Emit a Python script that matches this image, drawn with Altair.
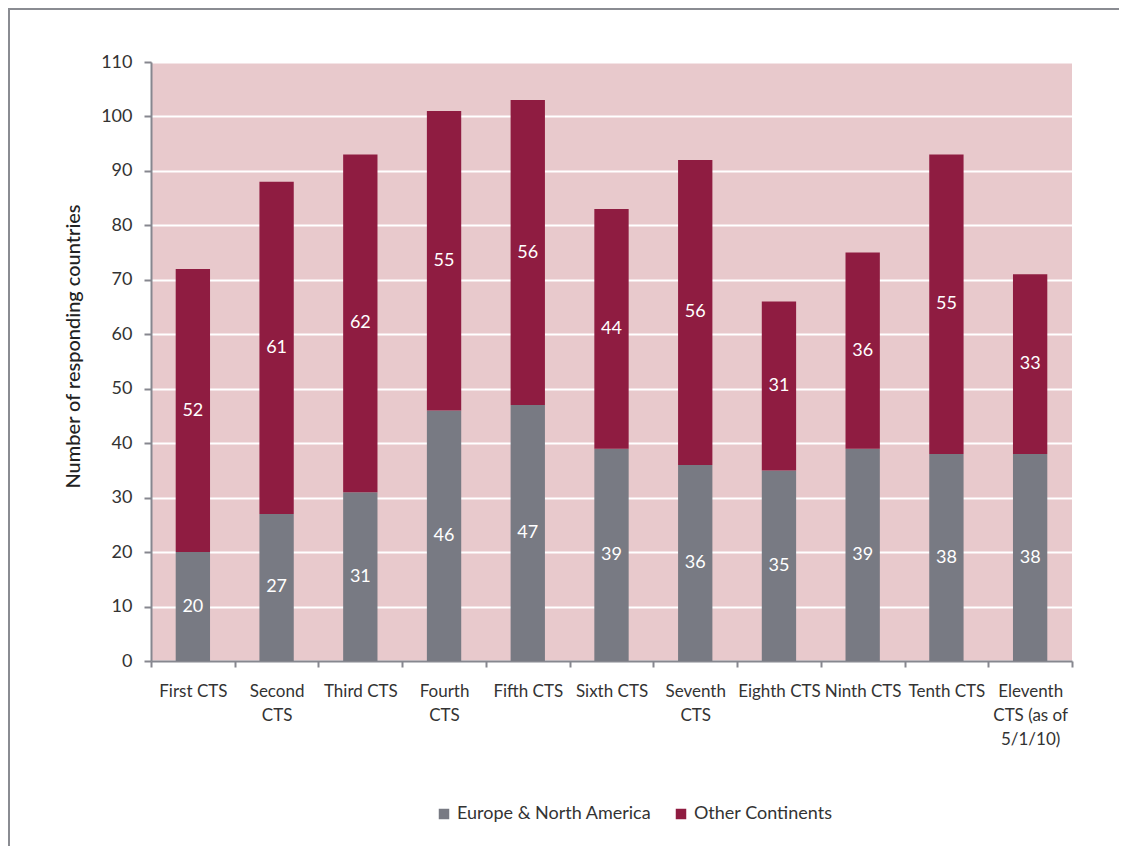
import altair as alt
import pandas as pd

stages = ["First CTS", "Second\nCTS", "Third CTS", "Fourth\nCTS", "Fifth CTS", "Sixth CTS",
          "Seventh\nCTS", "Eighth CTS", "Ninth CTS", "Tenth CTS", "Eleventh\nCTS (as of\n5/1/10)"]
europe = [20, 27, 31, 46, 47, 39, 36, 35, 39, 38, 38]
other = [52, 61, 62, 55, 56, 44, 56, 31, 36, 55, 33]
regions = ["Europe & North America", "Other Continents"]
colors = ["#787A83", "#8F1C41"]

rows = []
for i, s in enumerate(stages):
    rows.append({"stage": s, "region": regions[0], "value": europe[i], "ord": 0})
    rows.append({"stage": s, "region": regions[1], "value": other[i], "ord": 1})
df = pd.DataFrame(rows)

FONT = "Lato"
W, H = 921, 599

xenc = alt.X("stage:N", sort=stages, title=None,
             scale=alt.Scale(paddingInner=0, paddingOuter=0),
             axis=alt.Axis(labelExpr="split(datum.label, '\\n')", labelAngle=0,
                           tickBand="extent", labelLineHeight=24, labelPadding=16,
                           labelBaseline="top", labelFontSize=17))
base = alt.Chart(df)

bars = base.mark_bar(width=alt.RelativeBandSize(0.41)).encode(
    x=xenc,
    y=alt.Y("value:Q", stack="zero", title="Number of responding countries",
            scale=alt.Scale(domain=[0, 110], nice=False),
            axis=alt.Axis(values=list(range(0, 111, 10)), titleY=284)),
    color=alt.Color("region:N", scale=alt.Scale(domain=regions, range=colors),
                    legend=alt.Legend(title=None, orient="none", direction="horizontal",
                                      legendX=284, legendY=743, symbolType="square",
                                      symbolSize=110, symbolStrokeWidth=0, labelFontSize=18,
                                      labelFont=FONT, labelColor="#333333", columnPadding=20,
                                      labelOffset=4, padding=0, labelLimit=0)),
    order=alt.Order("ord:Q"),
)

labels = base.transform_stack(
    stack="value", groupby=["stage"], as_=["y0", "y1"], sort=[alt.SortField("ord")]
).transform_calculate(mid="(datum.y0 + datum.y1) / 2").mark_text(
    color="white", fontSize=18, font=FONT
).encode(x=alt.X("stage:N", sort=stages), y=alt.Y("mid:Q"), text=alt.Text("value:Q"))

frame_src = alt.Chart(pd.DataFrame({"a": [0]}))
frame_top = frame_src.mark_rule(stroke="#8A8C92", strokeWidth=2).encode(
    x=alt.value(-143), x2=alt.value(W + 47), y=alt.value(-53))
frame_left = frame_src.mark_rule(stroke="#8A8C92", strokeWidth=2).encode(
    x=alt.value(-142), y=alt.value(-54), y2=alt.value(H + 185))

chart = alt.layer(frame_top, frame_left, bars, labels).properties(
    width=W, height=H,
    autosize=alt.AutoSizeParams(type="none"),
    padding={"left": 143, "top": 54, "right": 47, "bottom": 185},
).configure_view(fill="#E8C9CC", stroke=None).configure_axis(
    labelFont=FONT, labelFontSize=18, labelColor="#333333",
    titleFont=FONT, titleFontSize=20, titleColor="#222222", titleFontWeight=500,
    domainColor="#86878F", domainWidth=2, tickColor="#86878F", tickWidth=2,
).configure_axisY(
    grid=True, gridColor="white", gridWidth=2, tickSize=7, labelPadding=12, titlePadding=17,
).configure_axisX(grid=False, tickSize=6)

chart.save("out.html", embed_options={"renderer": "svg", "actions": False})
